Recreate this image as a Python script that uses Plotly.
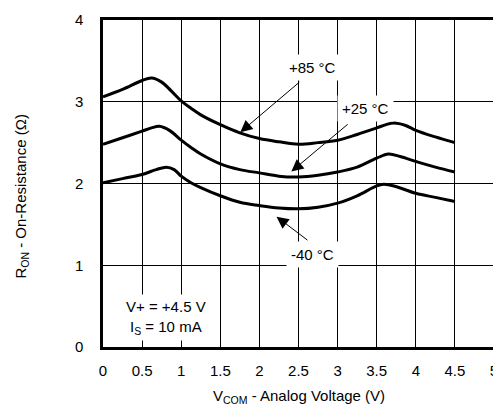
import plotly.graph_objects as go

# Data (V_COM in volts, R_ON in ohms)
v_85 = [0, 0.25, 0.5, 0.62, 0.75, 0.875, 1.0, 1.125, 1.25, 1.5, 1.75, 2.0, 2.25, 2.5, 2.75, 3.0, 3.25, 3.5, 3.62, 3.72, 3.87, 4.0, 4.25, 4.5]
r_85 = [3.06, 3.15, 3.26, 3.29, 3.24, 3.13, 3.01, 2.92, 2.84, 2.72, 2.62, 2.55, 2.51, 2.48, 2.50, 2.53, 2.60, 2.68, 2.72, 2.74, 2.71, 2.65, 2.57, 2.50]

v_25 = [0, 0.25, 0.5, 0.62, 0.72, 0.85, 1.0, 1.125, 1.25, 1.5, 1.75, 2.0, 2.25, 2.5, 2.75, 3.0, 3.25, 3.5, 3.65, 3.8, 4.0, 4.25, 4.5]
r_25 = [2.48, 2.56, 2.64, 2.68, 2.70, 2.65, 2.53, 2.44, 2.36, 2.24, 2.17, 2.13, 2.09, 2.08, 2.10, 2.14, 2.20, 2.31, 2.36, 2.33, 2.27, 2.20, 2.14]

v_m40 = [0, 0.25, 0.5, 0.68, 0.81, 0.91, 1.0, 1.125, 1.25, 1.5, 1.75, 2.0, 2.25, 2.5, 2.75, 3.0, 3.25, 3.5, 3.59, 3.72, 4.0, 4.25, 4.5]
r_m40 = [2.01, 2.06, 2.11, 2.17, 2.20, 2.17, 2.09, 2.01, 1.95, 1.85, 1.77, 1.73, 1.70, 1.69, 1.71, 1.76, 1.85, 1.97, 1.99, 1.97, 1.88, 1.83, 1.78]

x_ticks = [0, 0.5, 1, 1.5, 2, 2.5, 3, 3.5, 4, 4.5, 5]
y_ticks = [0, 1, 2, 3, 4]

FONT = "Liberation Sans, Arial, sans-serif"

fig = go.Figure()
for xs, ys in [(v_85, r_85), (v_25, r_25), (v_m40, r_m40)]:
    fig.add_trace(go.Scatter(x=xs, y=ys, mode="lines",
                             line=dict(color="black", width=3, shape="spline", smoothing=1.0),
                             showlegend=False, hoverinfo="skip"))

# labels with arrows: (text, text_x, text_y, tail_x, tail_y, tip_x, tip_y)
labels = [
    ("+85 °C", 2.68, 3.42, 2.53, 3.255, 1.756, 2.627),
    ("+25 °C", 3.354, 2.919, 3.148, 2.739, 2.409, 2.147),
    ("-40 °C", 2.684, 1.126, 2.633, 1.294, 2.219, 1.594),
]
for txt, tx, ty, ax, ay, hx, hy in labels:
    fig.add_annotation(x=hx, y=hy, ax=ax, ay=ay, xref="x", yref="y", axref="x", ayref="y",
                       text="", showarrow=True, arrowhead=2, arrowsize=2.4, arrowwidth=1,
                       arrowcolor="black", standoff=0, startstandoff=0)
    fig.add_annotation(x=tx, y=ty, xref="x", yref="y", text=txt, showarrow=False,
                       font=dict(family=FONT, size=15, color="black"),
                       bgcolor="white", borderpad=4)

fig.add_annotation(x=0.80, y=0.36, xref="x", yref="y",
                   text="V+ = +4.5 V<br>I<sub>S</sub> = 10 mA", showarrow=False,
                   font=dict(family=FONT, size=15, color="black"),
                   bgcolor="white", borderpad=3)

# axis titles
fig.add_annotation(x=0.501, y=-0.150, xref="paper", yref="paper",
                   text="V<sub>COM</sub> - Analog Voltage (V)", showarrow=False,
                   font=dict(family=FONT, size=15, color="black"),
                   xanchor="center", yanchor="middle")
fig.add_annotation(x=-0.2076, y=0.4625, xref="paper", yref="paper",
                   text="R<sub>ON</sub> - On-Resistance (Ω)", showarrow=False, textangle=-90,
                   font=dict(family=FONT, size=15, color="black"),
                   xanchor="center", yanchor="middle")

# page body has an 8px margin, so the figure is sized/offset to place the plot at 103..498 x 14..347
fig.update_layout(
    width=493, height=402,
    margin=dict(l=95, r=3, t=6, b=63),
    paper_bgcolor="white", plot_bgcolor="white",
    font=dict(family=FONT, size=15, color="black"),
    xaxis=dict(range=[0, 5], tickvals=x_ticks, showgrid=True, gridcolor="black", gridwidth=1,
               showline=True, linecolor="black", linewidth=2.5, mirror=True,
               zeroline=False, ticks="", ticklabelstandoff=8, ticklabeloverflow="allow",
               fixedrange=True),
    yaxis=dict(range=[0, 4], tickvals=y_ticks, showgrid=True, gridcolor="black", gridwidth=1,
               showline=True, linecolor="black", linewidth=2.5, mirror=True,
               zeroline=False, ticks="", ticklabelstandoff=14, ticklabeloverflow="allow",
               fixedrange=True),
)

fig.write_html("out.html")
